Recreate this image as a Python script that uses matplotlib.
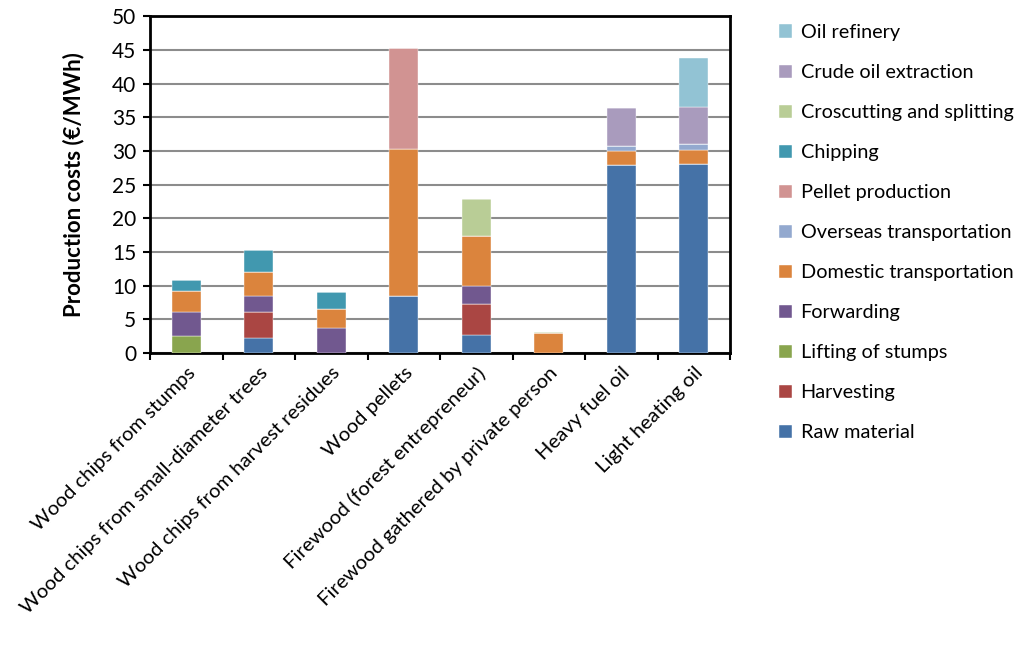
import matplotlib
matplotlib.use("Agg")
import matplotlib.pyplot as plt
import numpy as np

plt.rcParams['font.family'] = ['Lato', 'DejaVu Sans']

categories = ["Wood chips from stumps", "Wood chips from small-diameter trees",
              "Wood chips from harvest residues", "Wood pellets",
              "Firewood (forest entrepreneur)", "Firewood gathered by private person",
              "Heavy fuel oil", "Light heating oil"]

raw_material        = [0.0, 2.2, 0.0, 8.5, 2.7, 0.0, 27.9, 28.0]
harvesting          = [0.0, 3.9, 0.0, 0.0, 4.6, 0.0, 0.0, 0.0]
lifting_of_stumps   = [2.6, 0.0, 0.0, 0.0, 0.0, 0.0, 0.0, 0.0]
forwarding          = [3.5, 2.3, 3.7, 0.0, 2.7, 0.0, 0.0, 0.0]
domestic_transport  = [3.1, 3.7, 2.8, 21.8, 7.4, 2.9, 2.1, 2.2]
overseas_transport  = [0.0, 0.0, 0.0, 0.0, 0.0, 0.0, 0.8, 0.8]
pellet_production   = [0.0, 0.0, 0.0, 15.0, 0.0, 0.0, 0.0, 0.0]
chipping            = [1.7, 3.2, 2.5, 0.0, 0.0, 0.0, 0.0, 0.0]
croscutting         = [0.0, 0.0, 0.0, 0.0, 5.4, 0.2, 0.0, 0.0]
crude_oil           = [0.0, 0.0, 0.0, 0.0, 0.0, 0.0, 5.5, 5.5]
oil_refinery        = [0.0, 0.0, 0.0, 0.0, 0.0, 0.0, 0.0, 7.3]

series = [
    ("Raw material", raw_material, "#4572A7"),
    ("Harvesting", harvesting, "#AA4643"),
    ("Lifting of stumps", lifting_of_stumps, "#89A54E"),
    ("Forwarding", forwarding, "#71588F"),
    ("Domestic transportation", domestic_transport, "#DB843D"),
    ("Overseas transportation", overseas_transport, "#93A9CF"),
    ("Pellet production", pellet_production, "#D19392"),
    ("Chipping", chipping, "#4198AF"),
    ("Croscutting and splitting", croscutting, "#B9CD96"),
    ("Crude oil extraction", crude_oil, "#A99BBD"),
    ("Oil refinery", oil_refinery, "#92C3D4"),
]

fig = plt.figure(figsize=(10.24, 6.46), dpi=100)
ax = fig.add_axes([0.1465, 0.4535, 0.5665, 0.5215])

x = np.arange(len(categories))
bottom = np.zeros(len(categories))
handles = []
for name, vals, color in series:
    v = np.array(vals)
    h = ax.bar(x, v, width=0.4, bottom=bottom, color=color, label=name,
               edgecolor='white', linewidth=0.3, zorder=3)
    handles.append(h)
    bottom += v

ax.set_xlim(-0.5, len(categories) - 0.5)
ax.set_ylim(0, 50)
ax.set_yticks(np.arange(0, 51, 5))
ax.yaxis.grid(True, color='#8c8c8c', linewidth=1.5, zorder=0)
ax.set_axisbelow(True)

ax.set_xticks(np.arange(-0.5, len(categories) + 0.5, 1))
ax.set_xticklabels([])
ax.set_xticks(x, minor=True)
ax.set_xticklabels(categories, minor=True, rotation=45, ha='right',
                   rotation_mode='anchor', fontsize=14.6)
ax.tick_params(axis='x', which='minor', length=0, pad=8)
ax.tick_params(axis='x', which='major', length=5, width=1.5, direction='out')
ax.tick_params(axis='y', length=5, width=1.5, direction='out', labelsize=15, pad=5)

for s in ax.spines.values():
    s.set_linewidth(2)
    s.set_color('black')

ax.set_ylabel("Production costs (€/MWh)", fontsize=16, fontweight='bold', labelpad=20)

leg = ax.legend(handles[::-1], [s[0] for s in series][::-1],
                loc='upper left', bbox_to_anchor=(1.07, 1.0), frameon=False,
                fontsize=14.3, labelspacing=1.16, handlelength=0.65, handleheight=0.65,
                handletextpad=0.45, borderaxespad=0)

fig.savefig("out.png", dpi=100)
